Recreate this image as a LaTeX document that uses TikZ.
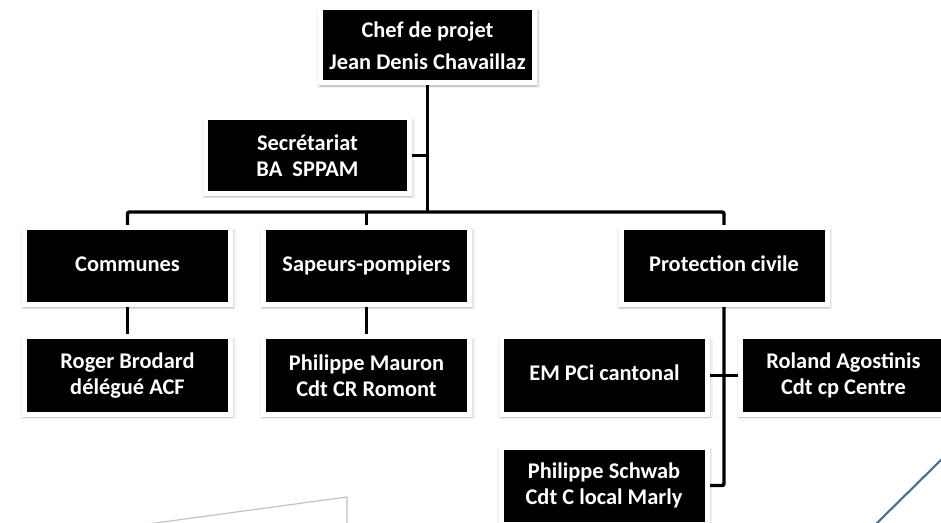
\documentclass[tikz,border=0pt]{standalone}
\usepackage{fontspec}
\setmainfont{Carlito}
\usetikzlibrary{shadows,backgrounds}

\definecolor{slideline}{RGB}{74,111,135}
\definecolor{paperedge}{RGB}{195,195,195}

\tikzset{
  x=0.75pt, y=-0.75pt,
  softshadow/.style={
    general shadow={fill=black, opacity=0.05, shadow xshift=0.6pt, shadow yshift=-2.2pt, shadow scale=1.045},
    general shadow={fill=black, opacity=0.07, shadow xshift=0.6pt, shadow yshift=-2.2pt, shadow scale=1.03},
    general shadow={fill=black, opacity=0.09, shadow xshift=0.6pt, shadow yshift=-2.2pt, shadow scale=1.015}
  },
  orgbox/.style={
    softshadow,
    fill=black, draw=white, line width=3.75pt, text=white,
    font=\bfseries\fontsize{16.8}{19.5}\selectfont, align=center,
    inner sep=0pt, minimum width=154.5pt, minimum height=57.75pt
  },
  oneline/.style={text height=1.9ex, text depth=0.3ex},
  conn/.style={line width=2.6pt, draw=black, rounded corners=1.5pt}
}

\begin{document}
\begin{tikzpicture}
  \useasboundingbox (0,0) rectangle (941,523);

  % boxes
  \node[orgbox, minimum width=160.5pt, minimum height=56.25pt,
        font=\bfseries\fontsize{16.8}{24}\selectfont] (chef) at (427.5,45.5)
        {Chef de projet\\Jean Denis Chavaillaz};
  \node[orgbox, minimum width=153pt, minimum height=57pt] (sec) at (307.5,155.5)
        {Secrétariat\\BA\ \ SPPAM};

  \node[orgbox, oneline] (com) at (127.5,266) {Communes};
  \node[orgbox, oneline] (sap) at (366.5,266) {Sapeurs-pompiers};
  \node[orgbox, oneline] (pc)  at (724,266)   {Protection civile};

  \node[orgbox] (roger)  at (127.5,375.5) {Roger Brodard\\délégué ACF};
  \node[orgbox] (mauron) at (366.5,375.5) {Philippe Mauron\\Cdt CR Romont};
  \node[orgbox, oneline] (em) at (604.5,375.5) {EM PCi cantonal};
  \node[orgbox] (roland) at (843.5,375.5) {Roland Agostinis\\Cdt cp Centre};
  \node[orgbox] (schwab) at (604,485.5)   {Philippe Schwab\\Cdt C local Marly};

  \coordinate (bus) at (427.5,212);

  \begin{pgfonlayer}{background}
    % page
    \fill[white] (0,0) rectangle (941,523);
    % slide decorations
    \draw[paperedge, line width=0.9pt] (148,524) -- (347,497) -- (347,524);
    \draw[slideline, line width=1.6pt] (942,459) -- (876,524);
    % connectors
    \draw[conn] (chef.south) -- (bus);
    \draw[conn] (sec.east) -- (sec.east -| chef.south);
    \draw[conn] (com.north) |- (bus) -| (pc.north);
    \draw[conn] (sap.north) -- (sap.north |- bus);
    \draw[conn] (com.south) -- (roger.north);
    \draw[conn] (sap.south) -- (mauron.north);
    \draw[conn] (pc.south) |- (schwab.east);
    \draw[conn] (em.east) -- (roland.west);
  \end{pgfonlayer}
\end{tikzpicture}
\end{document}
